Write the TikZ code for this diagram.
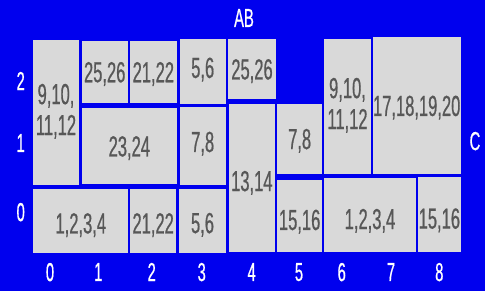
\documentclass[tikz,border=0pt]{standalone}
\usepackage{fontspec}
\setmainfont{Liberation Sans}[FakeStretch=0.57,FakeBold=0.6]
\usepackage{tikz}
\usetikzlibrary{fit}
\definecolor{bgblue}{HTML}{0000EE}
\definecolor{cellgray}{HTML}{D9D9D9}
\definecolor{labelgray}{HTML}{575757}

\begin{document}
\begin{tikzpicture}[x=1pt,y=-1pt,
  cell/.style={rectangle,fill=cellgray,inner sep=0pt},
  lbl/.style={inner sep=0pt,text depth=0pt,font=\fontsize{29}{31}\selectfont,
    text=labelgray,align=center},
  tag/.style={text=white,font=\fontsize{26}{28}\selectfont,inner sep=0pt,text depth=0pt},
]
  \fill[bgblue] (0,0) rectangle (485,291);
  % upper left block
  \node[cell,fit={(32.7,40) (79.3,185)}]    (c9l)  {};
  \node[cell,fit={(81.7,41) (127.7,103.3)}] (c25l) {};
  \node[cell,fit={(129.7,41) (177,103.3)}]  (c21t) {};
  \node[cell,fit={(179.7,39.3) (225.7,104.3)}] (c5t) {};
  \node[cell,fit={(228.3,39.3) (275.7,99.3)}]  (c25r) {};
  \node[cell,fit={(81.7,108.3) (177,184.3)}]   (c23) {};
  \node[cell,fit={(179.7,106.7) (225.7,185)}]  (c7l) {};
  % bottom row
  \node[cell,fit={(33.3,189.3) (128.3,253.3)}] (c1l) {};
  \node[cell,fit={(130,189.3) (176.3,253.3)}]  (c21b) {};
  \node[cell,fit={(179.3,189.3) (225.7,252.7)}] (c5b) {};
  \node[cell,fit={(228.7,104.3) (275,251.7)}]  (c13) {};
  \node[cell,fit={(277.3,103.7) (322,174.3)}]  (c7r) {};
  \node[cell,fit={(277.3,180) (322,251.7)}]    (c15m) {};
  % right block
  \node[cell,fit={(324.3,38.7) (370.7,174.3)}] (c9r) {};
  \node[cell,fit={(372.7,37.3) (460.7,174.3)}] (c17) {};
  \node[cell,fit={(324.3,178.3) (415.7,251.7)}] (c1r) {};
  \node[cell,fit={(417.7,177.3) (461,251.7)}]  (c15r) {};
  % cell labels
  \node[lbl] (t9l)  at ([yshift=3pt]c9l.center)  {9,10,\\11,12};
  \node[lbl] (t25l) at (c25l.center) {25,26};
  \node[lbl] (t21t) at (c21t.center) {21,22};
  \node[lbl] (t5t)  at ([yshift=4pt]c5t.center) {5,6};
  \node[lbl] (t25r) at (c25r.center) {25,26};
  \node[lbl] (t23)  at (c23.center)  {23,24};
  \node[lbl] (t7l)  at ([yshift=4pt]c7l.center) {7,8};
  \node[lbl] (t1l)  at ([yshift=-2pt]c1l.center) {1,2,3,4};
  \node[lbl] (t21b) at ([yshift=-2pt]c21b.center) {21,22};
  \node[lbl] (t5b)  at ([yshift=-2pt]c5b.center) {5,6};
  \node[lbl] (t13)  at ([yshift=-3pt]c13.center) {13,14};
  \node[lbl] (t7r)  at (c7r.center)  {7,8};
  \node[lbl] (t15m) at ([yshift=-4pt]c15m.center) {15,16};
  \node[lbl] (t9r)  at ([yshift=3pt]c9r.center)  {9,10,\\11,12};
  \node[lbl] (t17)  at (c17.center)  {17,18,19,20};
  \node[lbl] (t1r)  at ([yshift=-4pt]c1r.center) {1,2,3,4};
  \node[lbl] (t15r) at ([yshift=-4pt]c15r.center) {15,16};
  % axis labels
  \node[tag] (ab) at (244,18) {AB};
  \node[tag] (cc) at (475,141) {C};
  \foreach \y/\t in {81/2,143/1,212/0}
    \node[tag] (r\t) at (20.7,\y) {\t};
  \foreach \x/\t in {50/0,98.3/1,151.7/2,201.7/3,251.7/4,299/5,341.7/6,391/7,439.3/8}
    \node[tag] (k\t) at (\x,272) {\t};
\end{tikzpicture}
\end{document}
